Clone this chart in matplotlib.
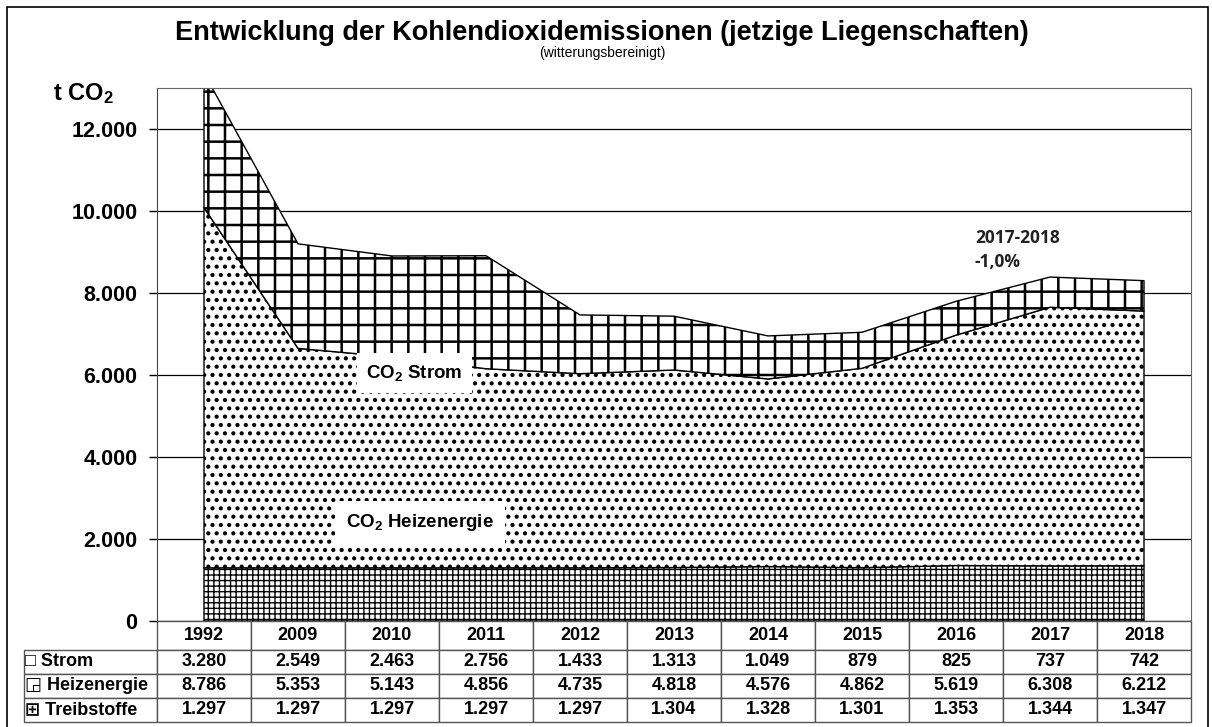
import numpy as np
import matplotlib
matplotlib.use('Agg')
import matplotlib.pyplot as plt
from matplotlib.patches import Rectangle
from matplotlib.table import Table

# Daten (t CO2, witterungsbereinigt)
jahre = ['1992', '2009', '2010', '2011', '2012', '2013', '2014', '2015', '2016', '2017', '2018']
strom = [3280, 2549, 2463, 2756, 1433, 1313, 1049, 879, 825, 737, 742]
heizenergie = [8786, 5353, 5143, 4856, 4735, 4818, 4576, 4862, 5619, 6308, 6212]
treibstoffe = [1297, 1297, 1297, 1297, 1297, 1304, 1328, 1301, 1353, 1344, 1347]
zeilen = ['\u25a1 Strom', '\u25f2 Heizenergie', '\u229e Treibstoffe']

plt.rcParams['font.family'] = ['Liberation Sans', 'DejaVu Sans']
plt.rcParams['font.weight'] = 'bold'
plt.rcParams['mathtext.fontset'] = 'custom'
plt.rcParams['mathtext.rm'] = 'Liberation Sans:bold'
plt.rcParams['mathtext.bf'] = 'Liberation Sans:bold'
plt.rcParams['mathtext.default'] = 'bf'

fig = plt.figure(figsize=(12.12, 7.27), dpi=100)
ax = fig.add_axes([157/1212, 1-621/727, 1034/1212, 533/727])

x = np.arange(len(jahre))
t = np.array(treibstoffe)
h = t + np.array(heizenergie)
s = h + np.array(strom)

# Schraffurstärke je Fläche
plt.rcParams['hatch.linewidth'] = 1.0
ax.fill_between(x, 0, t, facecolor='white', edgecolor='black', hatch='+++', lw=1, zorder=2)
plt.rcParams['hatch.linewidth'] = 1.8
ax.fill_between(x, t, h, facecolor='white', edgecolor='black', hatch='..', lw=1, zorder=2)
plt.rcParams['hatch.linewidth'] = 1.8
ax.fill_between(x, h, s, facecolor='white', edgecolor='black', hatch='+', lw=1, zorder=2)

ax.set_xlim(-0.5, len(jahre) - 0.5)
ax.set_ylim(0, 13000)
ax.set_yticks(range(0, 13000, 2000))
ax.set_yticklabels(['{:,}'.format(v).replace(',', '.') for v in range(0, 13000, 2000)],
                   fontsize=15.5, fontweight='bold')
ax.tick_params(axis='y', length=6, width=1, direction='out', pad=8)
ax.set_xticks([])
ax.grid(axis='y', color='black', lw=0.9, zorder=1)
ax.set_axisbelow(True)
for sp in ['top', 'right']:
    ax.spines[sp].set_color('#666666')
ax.spines['left'].set_color('#444444')
ax.spines['bottom'].set_visible(False)

# Beschriftungen im Diagramm
ax.text(2.24, 6050, r'CO$_2$ Strom', ha='center', va='center', fontsize=13.5, fontweight='bold',
        bbox=dict(facecolor='white', edgecolor='none', pad=7), zorder=5)
ax.text(2.3, 2400, r'CO$_2$ Heizenergie', ha='center', va='center', fontsize=13.5, fontweight='bold',
        bbox=dict(facecolor='white', edgecolor='none', pad=8), zorder=5)
ax.text(8.2, 9340, '2017-2018', ha='left', va='center', fontsize=12.5, fontweight='bold',
        family=['Open Sans', 'DejaVu Sans'], color='#222222')
ax.text(8.2, 8760, '-1,0%', ha='left', va='center', fontsize=12.5, fontweight='bold',
        family=['Open Sans', 'DejaVu Sans'], color='#222222')

# Tabelle
werte = [['{:,}'.format(v).replace(',', '.') for v in reihe]
         for reihe in [strom, heizenergie, treibstoffe]]
lw_lab = 133/1034
cw = 1/len(jahre)
rh = 24/533
kh = 29/533
tab = Table(ax, bbox=[-lw_lab, -101/533, 1 + lw_lab, 101/533])
tab.auto_set_font_size(False)
for j, jahr in enumerate(jahre):
    tab.add_cell(0, j + 1, cw, kh, text=jahr, loc='center')
for i, lab in enumerate(zeilen):
    tab.add_cell(i + 1, 0, lw_lab, rh, text=lab, loc='left')
    for j, v in enumerate(werte[i]):
        tab.add_cell(i + 1, j + 1, cw, rh, text=v, loc='center')
tab.add_cell(0, 0, lw_lab, kh, text='')
tab[(0, 0)].visible_edges = 'open'
for (r, c), cell in tab.get_celld().items():
    cell.set_edgecolor('#555555')
    cell.set_linewidth(1)
    cell.get_text().set_fontsize(13)
    cell.get_text().set_fontweight('bold')
    if c == 0:
        cell.PAD = 0.01
ax.add_table(tab)

# Titel
fig.text(0.497, 1-33/727, 'Entwicklung der Kohlendioxidemissionen (jetzige Liegenschaften)',
         ha='center', va='center', fontsize=19.5, fontweight='bold')
fig.text(0.497, 1-53/727, '(witterungsbereinigt)', ha='center', va='center',
         fontsize=10, fontweight='normal')
fig.text(83/1212, 1-94/727, r't CO$_2$', ha='center', va='center', fontsize=17, fontweight='bold')

# Rahmen
fig.patches.append(Rectangle((7/1212, -0.01), 1201/1212, 1-7/727+0.01, transform=fig.transFigure,
                             fill=False, edgecolor='black', lw=1.2))

fig.savefig('out.png', dpi=100)
